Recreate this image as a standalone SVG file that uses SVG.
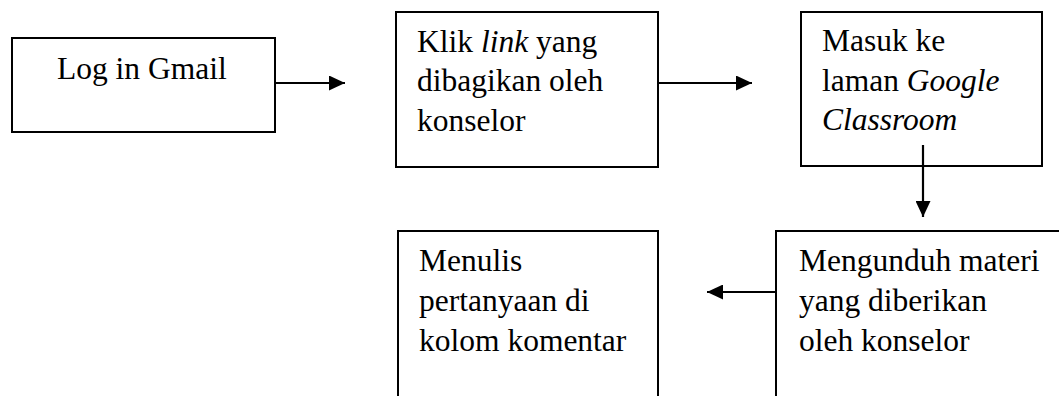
<svg xmlns="http://www.w3.org/2000/svg" width="1059" height="396" viewBox="0 0 1059 396">
<defs>
<style>
.box{fill:#fff;stroke:#000;stroke-width:2}
.t{font-family:"Liberation Serif","Times New Roman",serif;font-size:31.5px;fill:#000}
.i{font-style:italic}
.c{stroke:#000;stroke-width:2.2;fill:none;marker-end:url(#ah)}
</style>
<marker id="ah" viewBox="0 0 16 15" refX="16" refY="7.5" markerWidth="16" markerHeight="15" markerUnits="userSpaceOnUse" orient="auto">
<path d="M0,0 L16,7.5 L0,15 Z" fill="#000"/>
</marker>
</defs>
<rect width="1059" height="396" fill="#fff"/>
<g id="n1">
<rect class="box" x="12" y="38" width="263" height="94"/>
<text class="t" x="57" y="79">Log in Gmail</text>
</g>
<g id="n2">
<rect class="box" x="396" y="12" width="262" height="155"/>
<text class="t" x="417" y="51.5">Klik <tspan class="i">link</tspan> yang</text>
<text class="t" x="417" y="91">dibagikan oleh</text>
<text class="t" x="417" y="130.5">konselor</text>
</g>
<g id="n3">
<rect class="box" x="801" y="12" width="241" height="154"/>
<text class="t" x="822" y="51">Masuk ke</text>
<text class="t" x="822" y="90.5">laman <tspan class="i">Google</tspan></text>
<text class="t" x="822" y="129.5" font-style="italic">Classroom</text>
</g>
<g id="n4">
<rect class="box" x="776" y="231" width="300" height="200"/>
<text class="t" x="799" y="271">Mengunduh materi</text>
<text class="t" x="799" y="311">yang diberikan</text>
<text class="t" x="799" y="351">oleh konselor</text>
</g>
<g id="n5">
<rect class="box" x="398" y="231" width="260" height="200"/>
<text class="t" x="419" y="271">Menulis</text>
<text class="t" x="419" y="311">pertanyaan di</text>
<text class="t" x="419" y="351">kolom komentar</text>
</g>
<g id="connectors">
<line class="c" x1="275" y1="83" x2="345" y2="83"/>
<line class="c" x1="658" y1="83" x2="752" y2="83"/>
<line class="c" x1="923" y1="145" x2="923" y2="217"/>
<line class="c" x1="776" y1="292" x2="707" y2="292"/>
</g>
</svg>
